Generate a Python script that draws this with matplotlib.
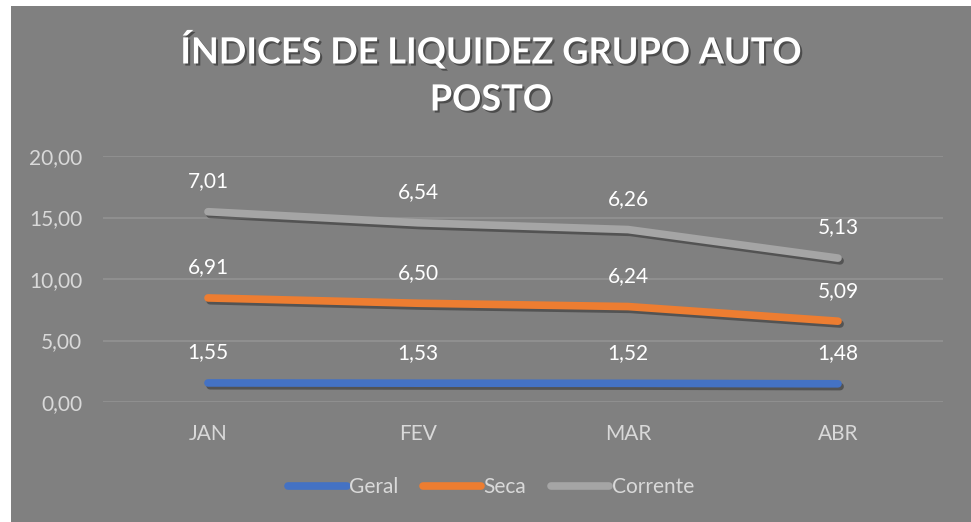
import matplotlib.pyplot as plt
import matplotlib.patheffects as pe
from matplotlib.patches import Rectangle
import numpy as np

meses = ["JAN", "FEV", "MAR", "ABR"]
geral = [1.55, 1.53, 1.52, 1.48]
seca = [6.91, 6.50, 6.24, 5.09]
corrente = [7.01, 6.54, 6.26, 5.13]

cores = ["#4472C4", "#ED7D31", "#A5A5A5"]
nomes = ["Geral", "Seca", "Corrente"]
bg = "#808080"

plt.rcParams['font.family'] = ['Lato', 'DejaVu Sans']

fig = plt.figure(figsize=(9.71, 5.22), dpi=100)
fig.patches.append(Rectangle((11/971, 0), 960/971, 516/522, transform=fig.transFigure,
                             facecolor=bg, edgecolor="none", zorder=-10))

ax = fig.add_axes([103/971, 120/522, 840/971, 246/522])
ax.set_facecolor("none")

x = np.arange(len(meses))
series = [geral, seca, corrente]
base = np.zeros(len(meses))
sombra = [pe.SimpleLineShadow(offset=(1.5, -2), shadow_color="black", alpha=0.35), pe.Normal()]
for vals, cor, nome in zip(series, cores, nomes):
    topo = base + np.array(vals)
    ax.plot(x, topo, color=cor, lw=5.5, solid_capstyle="round", label=nome,
            path_effects=sombra, zorder=3)
    for xi, yi, v in zip(x, topo, vals):
        ax.annotate(f"{v:.2f}".replace(".", ","), (xi, yi), xytext=(0, 22),
                    textcoords="offset points", ha="center", va="center",
                    color="white", fontsize=15)
    base = topo

ax.set_xlim(-0.5, len(meses) - 0.5)
ax.set_ylim(0, 20)
ax.set_yticks(np.arange(0, 21, 5))
ax.set_yticklabels([f"{t:.2f}".replace(".", ",") for t in np.arange(0, 21, 5)])
ax.set_xticks(x)
ax.set_xticklabels(meses)
ax.tick_params(length=0, colors="#D9D9D9", labelsize=15)
ax.tick_params(axis="y", pad=15)
ax.tick_params(axis="x", pad=16)
ax.grid(axis="y", color="#939393", lw=1.2)
for s in ax.spines.values():
    s.set_visible(False)

titulo = dict(ha="center", va="center", color="white", fontsize=26, fontweight="bold",
              path_effects=[pe.withSimplePatchShadow(offset=(1.5, -1.5), shadow_rgbFace="black", alpha=0.4)])
fig.text(491/971, 1 - 50/522, "ÍNDICES DE LIQUIDEZ GRUPO AUTO", **titulo)
fig.text(491/971, 1 - 100/522, "POSTO", **titulo)

leg = fig.legend(loc="center", bbox_to_anchor=(491/971, 1 - 487/522), ncol=3, frameon=False,
                 fontsize=15, handlelength=2.8, handletextpad=0.1, columnspacing=1.2)
for t in leg.get_texts():
    t.set_color("#D9D9D9")
for l in leg.get_lines():
    l.set_path_effects([])

fig.savefig("out.png", dpi=100)
